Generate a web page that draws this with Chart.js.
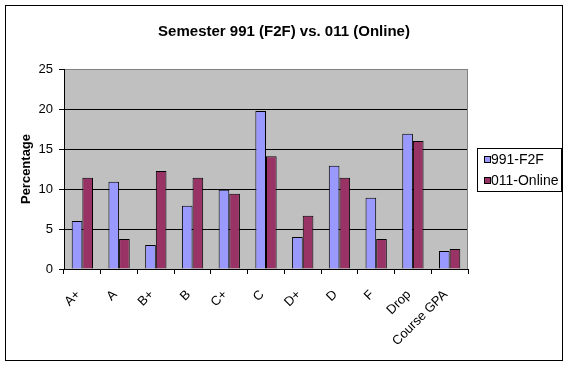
<!DOCTYPE html>
<html>
<head>
<meta charset="utf-8">
<script src="https://cdn.jsdelivr.net/npm/chart.js@4/dist/chart.umd.min.js"></script>
<style>
html,body{margin:0;padding:0;background:#fff;}
#wrap{position:relative;width:571px;height:366px;}
</style>
</head>
<body>
<div id="wrap"><canvas id="c" width="571" height="366"></canvas></div>
<script>
const titleText = 'Semester 991 (F2F) vs. 011 (Online)';
const categories = ['A+', 'A', 'B+', 'B', 'C+', 'C', 'D+', 'D', 'F', 'Drop', 'Course GPA'];
const f2fValues = [6.0, 10.9, 3.0, 7.9, 9.9, 19.75, 4.0, 12.9, 8.9, 16.9, 2.25];
const onlineValues = [11.4, 3.75, 12.25, 11.4, 9.4, 14.1, 6.65, 11.4, 3.75, 16.0, 2.5];
const seriesNames = ['991-F2F', '011-Online'];
const yTicks = [0, 5, 10, 15, 20, 25];

const FONT = '"Liberation Sans", Arial, sans-serif';
const PLOT = {left: 64, right: 468, top: 69, bottom: 269};

const decor = {
  id: 'decor',
  beforeDraw(chart) {
    const ctx = chart.ctx, a = chart.chartArea;
    ctx.save();
    ctx.fillStyle = '#fff';
    ctx.fillRect(0, 0, chart.width, chart.height);
    ctx.fillStyle = '#C0C0C0';
    ctx.fillRect(a.left, a.top, a.right - a.left, a.bottom - a.top);
    ctx.restore();
  },
  afterDatasetsDraw(chart) {
    const ctx = chart.ctx, a = chart.chartArea;
    ctx.save();
    ctx.strokeStyle = '#808080';
    ctx.lineWidth = 1;
    ctx.beginPath();
    ctx.moveTo(Math.round(a.right) - 0.5, a.top);
    ctx.lineTo(Math.round(a.right) - 0.5, a.bottom);
    ctx.stroke();
    ctx.restore();
  },
  afterDraw(chart) {
    const ctx = chart.ctx;
    ctx.save();
    ctx.strokeStyle = '#000';
    ctx.lineWidth = 1;
    ctx.strokeRect(5.5, 5.5, 557, 355);
    ctx.fillStyle = '#000';
    ctx.font = 'bold 15px ' + FONT;
    ctx.textAlign = 'center';
    ctx.textBaseline = 'middle';
    ctx.fillText(titleText, 284, 32);
    ctx.strokeRect(477.5, 148.5, 84, 43);
    ctx.font = '14px ' + FONT;
    ctx.textAlign = 'left';
    chart.data.datasets.forEach((ds, i) => {
      const cy = 160 + i * 21;
      ctx.fillStyle = ds.backgroundColor;
      ctx.fillRect(484.5, cy - 3.5, 6, 6);
      ctx.strokeStyle = '#000';
      ctx.strokeRect(484.5, cy - 3.5, 6, 6);
      ctx.fillStyle = '#000';
      ctx.fillText(ds.label, 491, cy + 0.5);
    });
    ctx.restore();
  }
};

new Chart(document.getElementById('c'), {
  type: 'bar',
  data: {
    labels: categories,
    datasets: [
      {label: seriesNames[0], data: f2fValues, backgroundColor: '#9999FF', borderColor: '#000', borderWidth: 1},
      {label: seriesNames[1], data: onlineValues, backgroundColor: '#993366', borderColor: '#000', borderWidth: 1}
    ]
  },
  options: {
    responsive: false,
    animation: false,
    devicePixelRatio: 1,
    layout: {padding: {left: 0, top: PLOT.top, right: 571 - PLOT.right, bottom: 0}},
    plugins: {legend: {display: false}, title: {display: false}, tooltip: {enabled: false}},
    datasets: {bar: {categoryPercentage: 0.58, barPercentage: 1.0}},
    scales: {
      x: {
        offset: true,
        grid: {offset: true, drawOnChartArea: false, drawTicks: true, tickLength: 5, tickColor: '#000', color: '#000'},
        border: {display: true, color: '#000', width: 1},
        ticks: {color: '#000', font: {family: FONT, size: 13}, maxRotation: 45, minRotation: 45, autoSkip: false, padding: 13, labelOffset: -4},
        afterFit(s) { s.height = 366 - PLOT.bottom; }
      },
      y: {
        min: 0, max: 25,
        afterBuildTicks(s) { s.ticks = yTicks.map(v => ({value: v})); },
        grid: {
          color: c => (c.tick && c.tick.value === 25) ? '#808080' : '#000',
          tickColor: '#000', tickLength: 5, drawTicks: true
        },
        border: {display: true, color: '#000', width: 1},
        ticks: {color: '#000', font: {family: FONT, size: 13}, padding: 6},
        title: {display: true, text: 'Percentage', color: '#000', font: {family: FONT, size: 13, weight: 'bold'}, padding: {top: 19, bottom: 0}},
        afterFit(s) { s.width = PLOT.left; }
      }
    }
  },
  plugins: [decor]
});
</script>
</body>
</html>
